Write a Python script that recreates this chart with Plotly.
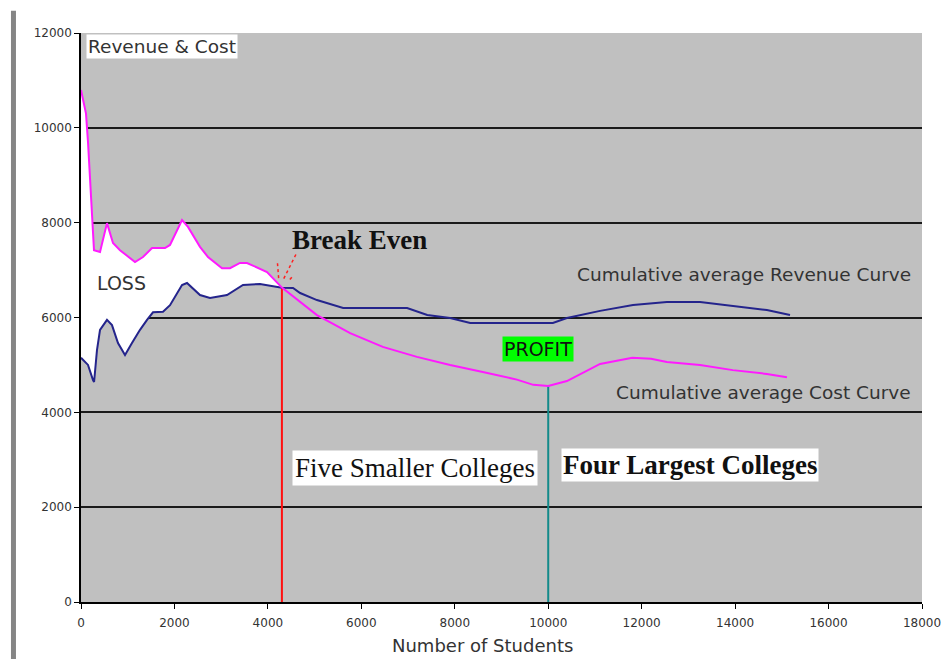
import numpy as np
import plotly.graph_objects as go

# Cumulative average revenue per student (blue curve)
rev_students = [0, 150, 257, 280, 342, 407, 556, 663, 792, 942, 1091, 1263, 1413, 1541,
                1755, 1905, 2162, 2269, 2547, 2761, 3125, 3467, 3831, 4300, 4538, 4690,
                5050, 5610, 6460, 6980, 7410, 7900, 8330, 9330, 10100, 10400, 11110,
                11815, 12540, 13250, 13955, 14680, 15175]
revenue = [5150, 5000, 4680, 4640, 5310, 5740, 5950, 5840, 5460, 5210, 5460, 5740, 5950, 6110,
           6120, 6260, 6685, 6727, 6474, 6411, 6474, 6685, 6706, 6630, 6622, 6516,
           6368, 6200, 6200, 6200, 6052, 5990, 5884, 5884, 5884, 5989, 6140,
           6263, 6326, 6326, 6242, 6158, 6052]

# Cumulative average cost per student (magenta curve)
cost_students = [0, 107, 150, 214, 278, 407, 556, 685, 835, 1156, 1327, 1520, 1798, 1905,
                 2162, 2290, 2547, 2718, 3018, 3189, 3403, 3553, 3981, 4300, 5050, 5760,
                 6460, 7190, 7900, 8600, 9330, 9680, 10000, 10400, 11110, 11800, 12200,
                 12540, 13250, 13950, 14680, 15110]
cost = [10800, 10300, 9700, 8480, 7420, 7380, 7990, 7570, 7420, 7170, 7275, 7465, 7465, 7530,
        8055, 7910, 7490, 7275, 7040, 7040, 7150, 7150, 6960, 6630, 6050, 5670,
        5380, 5170, 5000, 4850, 4690, 4580, 4555, 4660, 5020, 5150, 5130,
        5060, 5000, 4890, 4810, 4740]

BREAK_EVEN_X = 4300
BREAK_EVEN_Y = 6630
SPLIT_X = 10000
SPLIT_Y = float(np.interp(SPLIT_X, cost_students, cost))

x_ticks = list(range(0, 18001, 2000))
y_ticks = list(range(0, 12001, 2000))

SANS = "DejaVu Sans"
SERIF = "Liberation Serif"

fig = go.Figure()

# White "loss" band between the two curves up to the break-even point
rev_x = [x for x in rev_students if x <= BREAK_EVEN_X]
rev_y = revenue[:len(rev_x)]
cost_x = [x for x in cost_students if x <= BREAK_EVEN_X]
cost_y = cost[:len(cost_x)]
fig.add_trace(go.Scatter(
    x=rev_x + cost_x[::-1], y=rev_y + cost_y[::-1],
    fill="toself", fillcolor="white", mode="none", hoverinfo="skip", showlegend=False))

# Vertical markers: break-even and the college-size split
fig.add_trace(go.Scatter(x=[BREAK_EVEN_X, BREAK_EVEN_X], y=[0, BREAK_EVEN_Y], mode="lines",
                         line=dict(color="#ff1010", width=2), showlegend=False))
fig.add_trace(go.Scatter(x=[SPLIT_X, SPLIT_X], y=[0, SPLIT_Y], mode="lines",
                         line=dict(color="#138a8a", width=2), showlegend=False))

fig.add_trace(go.Scatter(x=rev_students, y=revenue, mode="lines",
                         line=dict(color="#24248c", width=2), name="Revenue",
                         showlegend=False))
fig.add_trace(go.Scatter(x=cost_students, y=cost, mode="lines",
                         line=dict(color="#ff1aff", width=2), name="Cost",
                         showlegend=False))

# Little red "spark" strokes at the crossing point
spark = dict(color="#ff2020", width=1.5, dash="dot")
shapes = [
    dict(type="line", xref="x", yref="y", x0=BREAK_EVEN_X - 70, y0=BREAK_EVEN_Y + 200,
         x1=BREAK_EVEN_X - 95, y1=BREAK_EVEN_Y + 520, line=spark),
    dict(type="line", xref="x", yref="y", x0=BREAK_EVEN_X + 40, y0=BREAK_EVEN_Y + 190,
         x1=BREAK_EVEN_X + 300, y1=BREAK_EVEN_Y + 700, line=spark),
    dict(type="line", xref="x", yref="y", x0=BREAK_EVEN_X + 170, y0=BREAK_EVEN_Y + 170,
         x1=BREAK_EVEN_X + 240, y1=BREAK_EVEN_Y + 250, line=spark),
    # grey rule along the left edge of the page
    dict(type="line", xref="paper", yref="paper", x0=-0.0803, x1=-0.0803,
         y0=1.039, y1=-0.11, line=dict(color="#858585", width=5)),
]

annotations = [
    dict(text="Revenue & Cost", x=110, y=11720, xanchor="left", yanchor="middle",
         font=dict(family=SANS, size=18.5, color="#333333"), bgcolor="white", borderpad=1),
    dict(text="LOSS", x=300, y=6727, xanchor="left", yanchor="middle",
         font=dict(family=SANS, size=19, color="#333333")),
    dict(text="<b>Break Even</b>", x=4473, y=7634, xanchor="left", yanchor="middle",
         font=dict(family=SERIF, size=27, color="#111111")),
    dict(text="Cumulative average Revenue Curve", x=17810, y=6917, xanchor="right",
         yanchor="middle", font=dict(family=SANS, size=18.5, color="#333333")),
    dict(text="Cumulative average Cost Curve", x=17810, y=4428, xanchor="right",
         yanchor="middle", font=dict(family=SANS, size=18.5, color="#333333")),
    dict(text="PROFIT", x=9782, y=5335, xanchor="center", yanchor="middle",
         font=dict(family=SANS, size=19, color="#111111"), bgcolor="#00ff00", borderpad=1),
    dict(text="Five Smaller Colleges", x=7149, y=2826, xanchor="center", yanchor="middle",
         font=dict(family=SERIF, size=27, color="#111111"), bgcolor="white", borderpad=2),
    dict(text="<b>Four Largest Colleges</b>", x=13035, y=2889, xanchor="center",
         yanchor="middle", font=dict(family=SERIF, size=27, color="#111111"),
         bgcolor="white", borderpad=1),
    dict(text="Number of Students", xref="paper", yref="paper", x=0.478, y=-0.0756,
         xanchor="center", yanchor="middle", showarrow=False,
         font=dict(family=SANS, size=18, color="#333333")),
]
for a in annotations:
    a.setdefault("showarrow", False)

fig.update_layout(
    width=943, height=659,
    margin=dict(l=81, r=21, t=33, b=57, autoexpand=False),
    paper_bgcolor="white", plot_bgcolor="#c0c0c0",
    shapes=shapes, annotations=annotations, showlegend=False,
    xaxis=dict(range=[0, 18000], tickvals=x_ticks, ticktext=[str(v) for v in x_ticks],
               showgrid=False, zeroline=False, showline=True, linecolor="black",
               linewidth=1.5, ticks="outside", ticklen=5, tickcolor="black",
               tickfont=dict(family=SANS, size=12, color="#333333"),
               ticklabelstandoff=4, automargin=False),
    yaxis=dict(range=[0, 12000], tickvals=y_ticks, ticktext=[str(v) for v in y_ticks],
               showgrid=True, gridcolor="#1a1a1a", gridwidth=1.5, zeroline=False,
               showline=True, linecolor="black", linewidth=1.5, ticks="outside",
               ticklen=5, tickcolor="black", automargin=False,
               tickfont=dict(family=SANS, size=12, color="#333333")),
)

fig.write_html("out.html")
